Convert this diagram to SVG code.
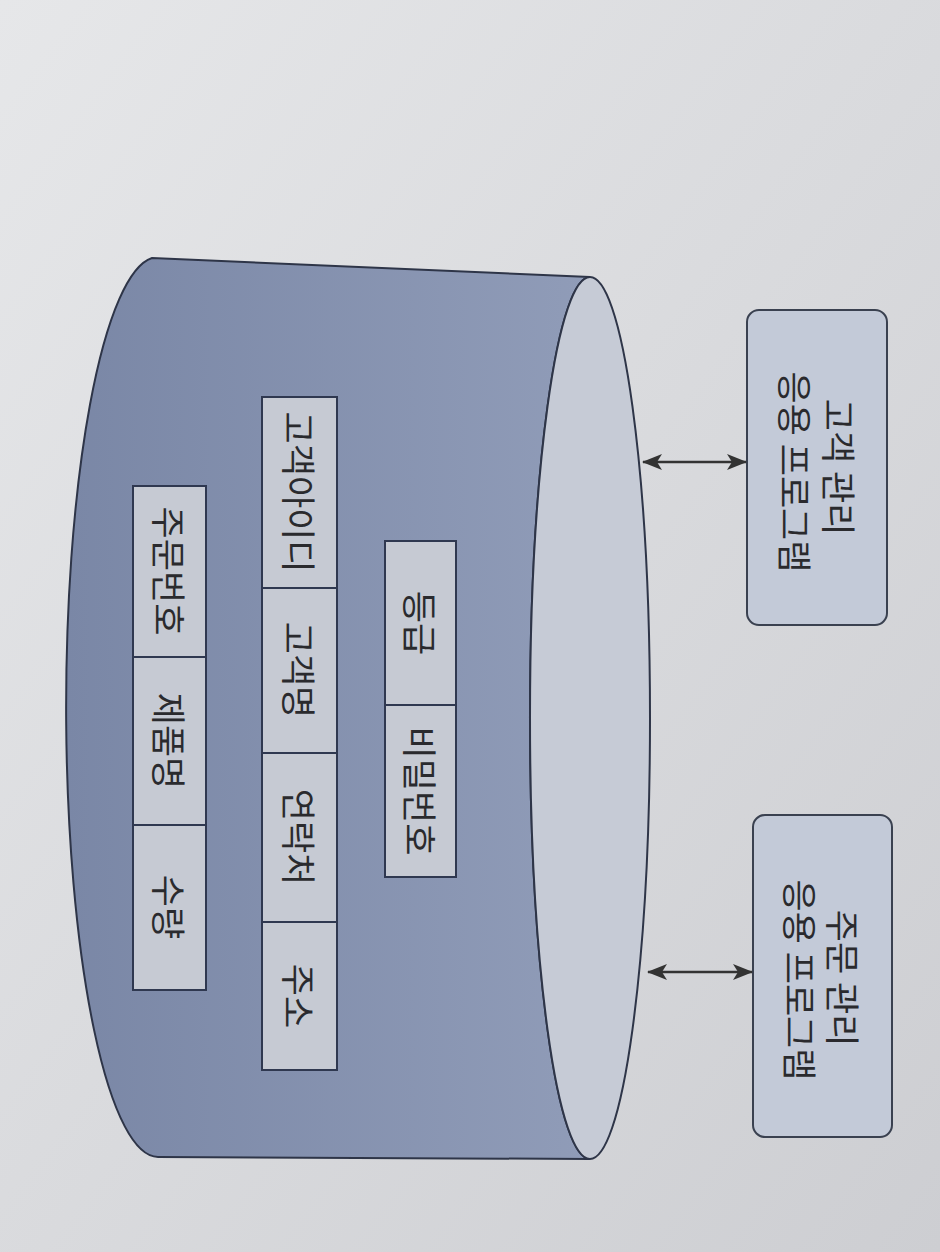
<svg xmlns="http://www.w3.org/2000/svg" width="940" height="1252" viewBox="0 0 940 1252">
<defs>
<linearGradient id="bg" x1="0" y1="0" x2="1" y2="1">
<stop offset="0" stop-color="#e6e7e9"/>
<stop offset="1" stop-color="#cdced2"/>
</linearGradient>
<linearGradient id="body" x1="0" y1="0" x2="1" y2="0">
<stop offset="0" stop-color="#7a87a6"/>
<stop offset="1" stop-color="#909cb8"/>
</linearGradient>
<marker id="ah" viewBox="0 0 20 16" refX="19" refY="8" markerWidth="20" markerHeight="16" markerUnits="userSpaceOnUse" orient="auto-start-reverse">
<path d="M0,0 L20,8 L0,16 L5,8 Z" fill="#333"/>
</marker>
<style>
.t{font-family:"Noto Sans CJK KR","Noto Sans",sans-serif;font-size:35px;fill:#2a2a2e;text-anchor:middle;dominant-baseline:central}
.cell{fill:#c6cad3;stroke:#2f3850;stroke-width:2}
.app{fill:#c3cad8;stroke:#3a4150;stroke-width:2}
.conn{stroke:#333;stroke-width:2.5;fill:none;marker-start:url(#ah);marker-end:url(#ah)}
</style>
</defs>
<rect width="940" height="1252" fill="url(#bg)"/>
<g id="database">
<path d="M152,258 L590,277 A60,441 0 0,0 590,1159 L158,1157 A92,450 0 0,1 152,258 Z" fill="url(#body)" stroke="#2e3548" stroke-width="2"/>
<ellipse cx="590" cy="718" rx="60" ry="441" fill="#c6cbd6" stroke="#2e3548" stroke-width="2"/>
</g>
<g id="order-table">
<rect class="cell" x="133" y="486" width="73" height="171"/>
<rect class="cell" x="133" y="657" width="73" height="168"/>
<rect class="cell" x="133" y="825" width="73" height="165"/>
<text class="t" transform="translate(170,571) rotate(90)">주문번호</text>
<text class="t" transform="translate(170,741) rotate(90)">제품명</text>
<text class="t" transform="translate(170,907) rotate(90)">수량</text>
</g>
<g id="customer-table">
<rect class="cell" x="262" y="397" width="75" height="191"/>
<rect class="cell" x="262" y="588" width="75" height="165"/>
<rect class="cell" x="262" y="753" width="75" height="169"/>
<rect class="cell" x="262" y="922" width="75" height="148"/>
<text class="t" transform="translate(300,492) rotate(90)">고객아이디</text>
<text class="t" transform="translate(300,670) rotate(90)">고객명</text>
<text class="t" transform="translate(300,837) rotate(90)">연락처</text>
<text class="t" transform="translate(300,996) rotate(90)">주소</text>
</g>
<g id="grade-table">
<rect class="cell" x="385" y="541" width="71" height="164"/>
<rect class="cell" x="385" y="705" width="71" height="172"/>
<text class="t" transform="translate(421,623) rotate(90)">등급</text>
<text class="t" transform="translate(421,791) rotate(90)">비밀번호</text>
</g>
<g id="customer-app">
<rect class="app" x="747" y="310" width="140" height="315" rx="12"/>
<text class="t" transform="translate(840,467) rotate(90)">고객 관리</text>
<text class="t" transform="translate(796,472) rotate(90)">응용 프로그램</text>
</g>
<g id="order-app">
<rect class="app" x="753" y="815" width="139" height="322" rx="12"/>
<text class="t" transform="translate(844,978) rotate(90)">주문 관리</text>
<text class="t" transform="translate(801,980) rotate(90)">응용 프로그램</text>
</g>
<g id="connectors">
<line class="conn" x1="643" y1="462" x2="746" y2="462"/>
<line class="conn" x1="648" y1="972" x2="752" y2="972"/>
</g>
</svg>
